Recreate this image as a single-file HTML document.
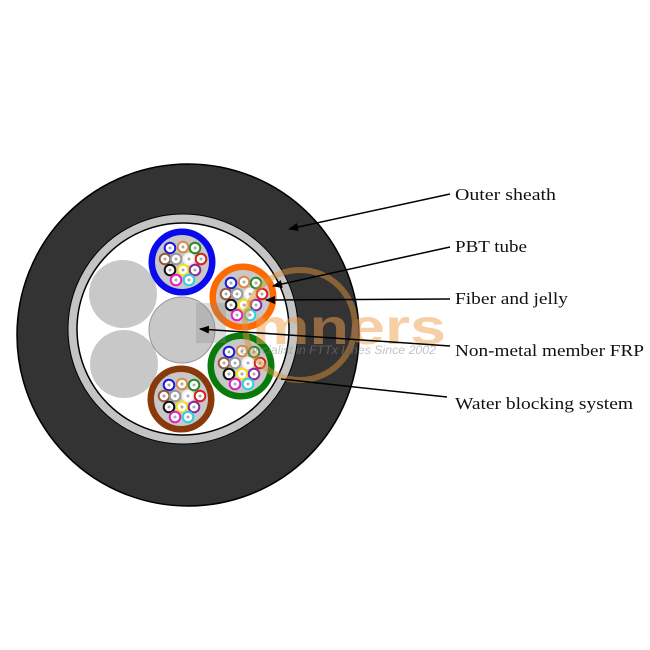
<!DOCTYPE html>
<html><head><meta charset="utf-8"><style>
html,body{margin:0;padding:0;background:#fff;width:650px;height:650px;overflow:hidden}
svg text{font-family:"Liberation Serif",serif;font-size:17px;fill:#111}
</style></head><body>
<svg width="650" height="650" viewBox="0 0 650 650" xmlns="http://www.w3.org/2000/svg">
<defs>
<marker id="ah" markerWidth="10" markerHeight="8" refX="9" refY="4" orient="auto" markerUnits="userSpaceOnUse">
<path d="M0,0 L10,4 L0,8 z" fill="#000"/></marker>
<g id="fibers">
  <circle r="27" fill="#c8c8c8"/>
  <g stroke-width="2" fill="#fff">
  <circle cx="-12" cy="-14" r="5.3" stroke="#1a1adf"/>
  <circle cx="1" cy="-15" r="5.3" stroke="#e08a4a"/>
  <circle cx="13" cy="-14" r="5.3" stroke="#2a8a2a"/>
  <circle cx="-17" cy="-3" r="5.3" stroke="#9a5a3a"/>
  <circle cx="-6" cy="-3" r="5.3" stroke="#999"/>
  <circle cx="7" cy="-3" r="5.3" stroke="#f4f4f4"/>
  <circle cx="19" cy="-3" r="5.3" stroke="#d82020"/>
  <circle cx="-12" cy="8" r="5.3" stroke="#111"/>
  <circle cx="1" cy="8" r="5.3" stroke="#f0e020"/>
  <circle cx="13" cy="8" r="5.3" stroke="#8a2a9a"/>
  <circle cx="-6" cy="18" r="5.3" stroke="#e020c0"/>
  <circle cx="7" cy="18" r="5.3" stroke="#30d0e0"/>
  </g>
  <g fill="#aaa">
  <circle cx="-12" cy="-14" r="1.5"/><circle cx="1" cy="-15" r="1.5"/><circle cx="13" cy="-14" r="1.5"/>
  <circle cx="-17" cy="-3" r="1.5"/><circle cx="-6" cy="-3" r="1.5"/><circle cx="7" cy="-3" r="1.5"/><circle cx="19" cy="-3" r="1.5"/>
  <circle cx="-12" cy="8" r="1.5"/><circle cx="1" cy="8" r="1.5"/><circle cx="13" cy="8" r="1.5"/>
  <circle cx="-6" cy="18" r="1.5"/><circle cx="7" cy="18" r="1.5"/>
  </g>
</g>
</defs>
<circle cx="188" cy="335" r="171" fill="#333" stroke="#000" stroke-width="1.5"/>
<circle cx="183" cy="329" r="115" fill="#c4c4c4" stroke="#000" stroke-width="1"/>
<circle cx="183" cy="329" r="106" fill="#fff" stroke="#000" stroke-width="1.5"/>
<circle cx="123" cy="294" r="34" fill="#c8c8c8"/>
<circle cx="124" cy="364" r="34" fill="#c8c8c8"/>
<circle cx="182" cy="330" r="33" fill="#c8c8c8" stroke="#999" stroke-width="1"/>
<circle cx="182" cy="262" r="30" fill="none" stroke="#0a0aee" stroke-width="7"/>
<use href="#fibers" x="182" y="262"/>
<circle cx="243" cy="297" r="30" fill="none" stroke="#ff6a00" stroke-width="7"/>
<use href="#fibers" x="243" y="297"/>
<circle cx="241" cy="366" r="30" fill="none" stroke="#0a7a0a" stroke-width="7"/>
<use href="#fibers" x="241" y="366"/>
<circle cx="181" cy="399" r="30" fill="none" stroke="#8a3a0a" stroke-width="7"/>
<use href="#fibers" x="181" y="399"/>
<!-- watermark -->
<g opacity="0.5">
<circle cx="300" cy="325" r="55" fill="none" stroke="#d8923a" stroke-width="6"/>
<rect x="196" y="303" width="30" height="40" fill="#888" opacity="0.6"/>
<text x="252" y="344" textLength="194" lengthAdjust="spacingAndGlyphs" style="font-family:'Liberation Sans',sans-serif;font-size:50px;fill:#f0a050;font-weight:bold">mners</text>
<text x="240" y="354" textLength="196" lengthAdjust="spacingAndGlyphs" style="font-family:'Liberation Sans',sans-serif;font-size:12px;fill:#888;font-style:italic">Specialist in FTTx Lines Since 2002</text>
</g>
<g stroke="#000" stroke-width="1.5" fill="none">
<line x1="450" y1="194" x2="289" y2="229" marker-end="url(#ah)"/>
<line x1="450" y1="247" x2="273" y2="286" marker-end="url(#ah)"/>
<line x1="450" y1="299" x2="266" y2="300" marker-end="url(#ah)"/>
<line x1="450" y1="346" x2="200" y2="329" marker-end="url(#ah)"/>
<line x1="447" y1="397" x2="281" y2="379"/>
</g>
<text x="455" y="200" textLength="101" lengthAdjust="spacingAndGlyphs">Outer sheath</text>
<text x="455" y="252" textLength="72" lengthAdjust="spacingAndGlyphs">PBT tube</text>
<text x="455" y="304" textLength="113" lengthAdjust="spacingAndGlyphs">Fiber and jelly</text>
<text x="455" y="356" textLength="189" lengthAdjust="spacingAndGlyphs">Non-metal member FRP</text>
<text x="455" y="409" textLength="178" lengthAdjust="spacingAndGlyphs">Water blocking system</text>
</svg>
</body></html>
